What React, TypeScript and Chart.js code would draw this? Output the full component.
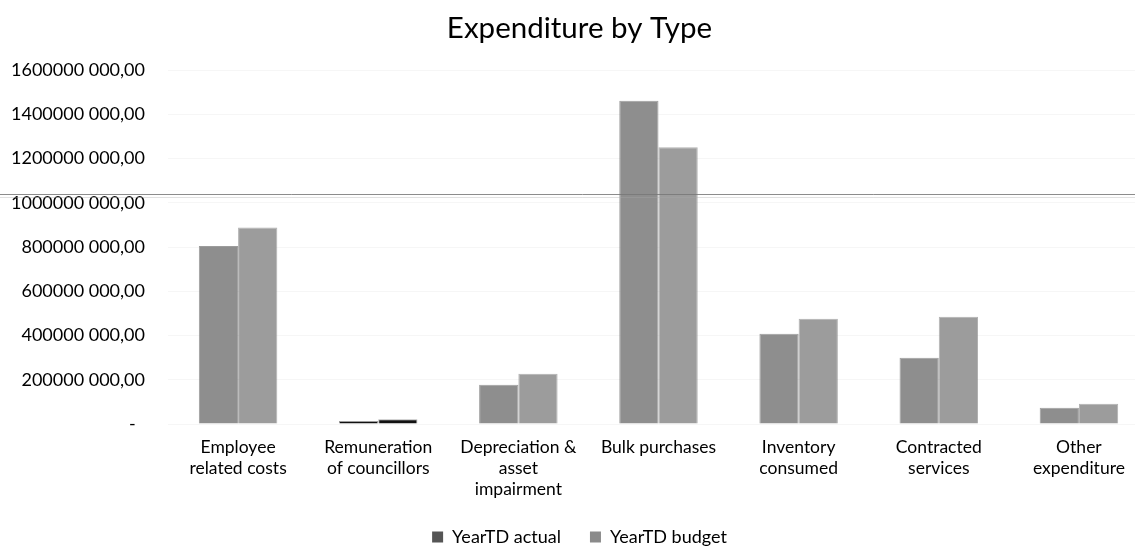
import React, { useEffect, useRef } from "react";
import { Chart, registerables } from "chart.js";

Chart.register(...registerables);

// Expenditure categories (multi-line axis labels)
const categories: string[][] = [
  ["Employee", "related costs"],
  ["Remuneration", "of councillors"],
  ["Depreciation &", "asset", "impairment"],
  ["Bulk purchases"],
  ["Inventory", "consumed"],
  ["Contracted", "services"],
  ["Other", "expenditure"],
];

// Year-to-date figures (Rand)
const yearTdActual: number[] = [805e6, 14e6, 177e6, 1461e6, 408e6, 299e6, 73e6];
const yearTdBudget: number[] = [888e6, 22e6, 227e6, 1251e6, 476e6, 485e6, 91e6];

const seriesNames: string[] = ["YearTD actual", "YearTD budget"];

// Value axis range
const axisMin = 0;
const axisMax = 1600e6;
const axisStep = 200e6;

// Level of the thin rule running across the page
const ruleLevel = 1038e6;

const FONT = "Lato, 'Open Sans', sans-serif";

function formatAmount(v: number): string {
  if (v === 0) return "-  ";
  const head = Math.floor(v / 1000);
  const tail = String(Math.round(v % 1000)).padStart(3, "0");
  return `${head} ${tail},00`;
}

const ruleLine = {
  id: "ruleLine",
  afterDatasetsDraw(chart: any) {
    const y = Math.round(chart.scales.y.getPixelForValue(ruleLevel));
    const ctx = chart.ctx;
    ctx.save();
    ctx.strokeStyle = "rgba(120,120,120,0.85)";
    ctx.lineWidth = 1;
    ctx.beginPath();
    ctx.moveTo(0, y + 0.5);
    ctx.lineTo(chart.width, y + 0.5);
    ctx.stroke();
    ctx.strokeStyle = "rgba(170,170,170,0.35)";
    ctx.beginPath();
    ctx.moveTo(0, y + 3.5);
    ctx.lineTo(chart.width, y + 3.5);
    ctx.stroke();
    ctx.restore();
  },
};

export default function App() {
  const canvasRef = useRef<HTMLCanvasElement | null>(null);

  useEffect(() => {
    if (!canvasRef.current) return;
    const actualFill = yearTdActual.map((_, i) => (i === 1 ? "#111111" : "#8e8e8e"));
    const budgetFill = yearTdBudget.map((_, i) => (i === 1 ? "#111111" : "#9c9c9c"));
    const legendFill = ["#555555", "#8a8a8a"];

    const chart = new Chart(canvasRef.current, {
      type: "bar",
      data: {
        labels: categories,
        datasets: [
          {
            label: seriesNames[0],
            data: yearTdActual,
            backgroundColor: actualFill,
            borderColor: "rgba(90,90,90,0.6)",
            borderWidth: 1,
            categoryPercentage: 0.56,
            barPercentage: 1.0,
          },
          {
            label: seriesNames[1],
            data: yearTdBudget,
            backgroundColor: budgetFill,
            borderColor: "rgba(100,100,100,0.5)",
            borderWidth: 1,
            categoryPercentage: 0.56,
            barPercentage: 1.0,
          },
        ],
      },
      options: {
        responsive: false,
        animation: false,
        devicePixelRatio: 1,
        layout: { padding: { top: 0, right: 16, bottom: -3, left: 10 } },
        plugins: {
          title: {
            display: true,
            text: "Expenditure by Type",
            color: "#000",
            font: { family: FONT, size: 29.5, weight: "normal" },
            padding: { top: 11, bottom: 23.6 },
          },
          legend: {
            position: "bottom",
            labels: {
              color: "#000",
              font: { family: FONT, size: 18 },
              boxWidth: 11,
              boxHeight: 11,
              padding: 29,
              generateLabels: (c: any) =>
                c.data.datasets.map((ds: any, i: number) => ({
                  text: ds.label,
                  fillStyle: legendFill[i],
                  strokeStyle: legendFill[i],
                  lineWidth: 0,
                  hidden: false,
                  datasetIndex: i,
                  fontColor: "#000",
                })),
            },
          },
          tooltip: { enabled: false },
        },
        scales: {
          x: {
            afterFit: (scale: any) => {
              scale.height = 75;
            },
            grid: { display: false, drawTicks: false },
            border: { display: false },
            ticks: {
              color: "#000",
              font: { family: FONT, size: 17.5, lineHeight: "21px" },
              padding: 13,
              maxRotation: 0,
              autoSkip: false,
            },
          },
          y: {
            min: axisMin,
            max: axisMax,
            afterFit: (scale: any) => {
              scale.width = 158;
            },
            grid: { color: "rgba(0,0,0,0.035)", drawTicks: false },
            border: { display: false },
            ticks: {
              stepSize: axisStep,
              color: "#000",
              font: { family: FONT, size: 18 },
              padding: 23,
              callback: (v: any) => formatAmount(Number(v)),
            },
          },
        },
      },
      plugins: [ruleLine],
    });
    return () => chart.destroy();
  }, []);

  return (
    <div
      style={{
        position: "fixed",
        left: 0,
        top: 0,
        width: 1135,
        height: 553,
        overflow: "hidden",
        background: "#fff",
      }}
    >
      <canvas ref={canvasRef} width={1165} height={553} style={{ display: "block" }} />
    </div>
  );
}
